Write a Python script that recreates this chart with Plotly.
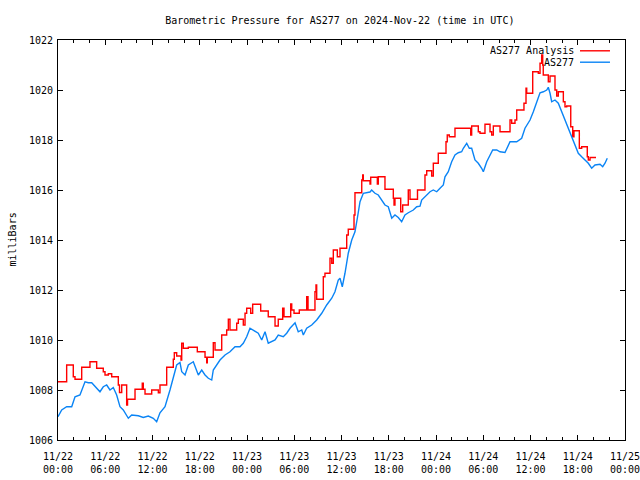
import pandas as pd
import plotly.graph_objects as go

BASE = pd.Timestamp("2024-11-22 00:00")

# AS277 Analysis (red, stepped) : hours since 2024-11-22 00:00 UTC, pressure (mb)
analysis_hours = [0.0, 1.10, 1.94, 2.16, 3.01, 4.06, 4.91, 5.75, 5.97, 6.39, 6.82, 7.66, 7.81, 8.09,
                  8.72, 8.83, 9.78, 10.70, 10.83, 11.05, 11.90, 12.74, 12.95, 13.80, 14.64, 14.77,
                  15.07, 15.62, 15.71, 15.91, 16.55, 17.69, 18.67, 18.88, 18.96, 19.72, 19.94, 20.79,
                  21.42, 21.63, 21.84, 22.69, 22.90, 23.53, 23.75, 23.96, 24.47, 24.72, 25.74, 26.70,
                  27.56, 27.97, 28.53, 28.70, 29.55, 29.68, 29.97, 30.64, 31.58, 31.75, 32.63, 32.76,
                  32.85, 33.69, 33.90, 34.54, 34.76, 34.96, 35.47, 35.81, 36.66, 36.86, 37.59, 37.71,
                  38.57, 38.69, 38.77, 39.62, 39.71, 40.55, 40.67, 41.52, 42.58, 42.67, 42.79, 43.52,
                  43.77, 44.48, 44.70, 45.65, 46.60, 46.82, 47.45, 47.66, 48.29, 49.27, 49.43, 49.69,
                  50.41, 52.41, 52.53, 53.37, 53.59, 54.22, 54.86, 55.07, 55.28, 56.13, 57.40, 57.61,
                  58.03, 58.25, 59.17, 59.43, 59.52, 60.28, 60.99, 61.21, 61.42, 61.55, 61.62, 62.26,
                  62.48, 63.11, 63.33, 63.53, 64.17, 64.38, 64.60, 65.11, 65.36, 65.52, 66.20, 66.50,
                  67.21, 67.34, 67.56, 68.32]
analysis_mb = [1008.33, 1009.0, 1008.53, 1008.43, 1008.91, 1009.13, 1008.87, 1008.73, 1008.6, 1008.65,
               1008.53, 1008.2, 1007.9, 1008.2, 1007.4, 1007.63, 1008.03, 1008.27, 1008.03, 1007.84,
               1008.0, 1007.89, 1008.2, 1008.91, 1009.23, 1009.49, 1009.36, 1009.2, 1009.87, 1009.67,
               1009.71, 1009.53, 1009.31, 1009.09, 1009.31, 1009.89, 1009.6, 1010.2, 1010.4, 1010.83,
               1010.4, 1010.67, 1010.83, 1010.6, 1011.07, 1011.27, 1011.07, 1011.43, 1011.16, 1010.93,
               1010.56, 1010.83, 1011.27, 1010.93, 1011.44, 1011.2, 1011.07, 1011.2, 1011.73, 1011.2,
               1011.93, 1012.2, 1011.63, 1012.53, 1012.67, 1013.27, 1013.07, 1013.6, 1013.33, 1013.67,
               1014.2, 1014.43, 1015.0, 1015.89, 1016.4, 1016.6, 1016.37, 1016.24, 1016.51, 1016.24,
               1016.53, 1016.03, 1015.67, 1015.4, 1015.67, 1015.13, 1015.4, 1016.0, 1015.63, 1016.0,
               1016.6, 1016.77, 1016.56, 1017.07, 1017.47, 1017.93, 1018.2, 1018.13, 1018.47, 1018.2,
               1018.56, 1018.33, 1018.27, 1018.63, 1018.33, 1018.2, 1018.56, 1018.33, 1018.8, 1018.67,
               1018.8, 1019.2, 1019.47, 1020.07, 1019.87, 1020.73, 1020.67, 1021.07, 1021.4, 1021.0,
               1020.6, 1020.33, 1020.56, 1020.0, 1019.76, 1019.93, 1019.53, 1019.33, 1019.36, 1018.53,
               1018.13, 1018.37, 1017.67, 1017.73, 1017.33, 1017.2, 1017.3, 1017.3]

# AS277 observations (blue)
obs_hours = [0.0, 0.47, 1.10, 1.74, 2.16, 2.79, 3.43, 3.85, 4.28, 5.12, 5.33, 5.75, 6.18, 6.60, 7.02,
             7.45, 7.87, 8.29, 8.93, 9.36, 10.20, 10.83, 11.47, 12.10, 12.53, 12.95, 13.59, 14.22,
             14.64, 15.07, 15.49, 15.71, 16.13, 16.55, 17.18, 17.82, 18.25, 18.67, 19.09, 19.52,
             19.72, 20.15, 20.57, 21.21, 21.84, 22.48, 23.11, 23.53, 23.96, 24.38, 24.80, 25.23,
             25.43, 25.87, 26.29, 26.70, 27.14, 27.56, 27.97, 28.61, 29.04, 29.46, 30.10, 30.51,
             30.95, 31.15, 31.58, 32.22, 32.85, 33.49, 34.12, 34.76, 35.17, 35.59, 35.81, 36.10,
             36.44, 36.86, 37.30, 37.71, 38.01, 38.35, 38.77, 39.20, 39.62, 39.83, 40.25, 40.67,
             41.10, 41.52, 41.94, 42.38, 42.79, 43.21, 43.64, 44.06, 44.48, 45.12, 45.55, 45.97,
             46.18, 46.82, 47.24, 47.66, 48.09, 48.51, 48.93, 49.14, 49.56, 49.99, 50.41, 50.83,
             51.26, 51.47, 51.90, 52.23, 52.53, 52.95, 53.37, 53.80, 54.01, 54.44, 54.86, 55.20,
             55.71, 56.13, 56.76, 57.40, 58.25, 58.88, 59.30, 59.94, 60.36, 60.79, 61.21, 61.63,
             62.06, 62.26, 62.48, 62.69, 63.11, 63.53, 63.96, 64.38, 64.80, 65.23, 65.65, 66.07,
             66.50, 66.92, 67.34, 67.77, 68.19, 68.83, 69.17, 69.46, 69.75]
obs_mb = [1006.93, 1007.2, 1007.33, 1007.33, 1007.73, 1007.8, 1008.33, 1008.29, 1008.29, 1008.0,
          1007.93, 1008.13, 1008.2, 1008.0, 1008.1, 1007.8, 1007.33, 1007.2, 1006.87, 1007.0,
          1006.97, 1006.9, 1006.96, 1006.87, 1006.73, 1007.09, 1007.33, 1008.0, 1008.53, 1009.0,
          1009.1, 1008.73, 1008.6, 1009.0, 1009.13, 1008.6, 1008.8, 1008.6, 1008.47, 1008.4,
          1008.8, 1009.0, 1009.2, 1009.4, 1009.53, 1009.73, 1009.73, 1009.87, 1010.13, 1010.47,
          1010.4, 1010.3, 1010.27, 1010.0, 1010.33, 1009.87, 1009.93, 1010.0, 1010.2, 1010.13,
          1010.27, 1010.47, 1010.69, 1010.33, 1010.4, 1010.2, 1010.47, 1010.6, 1010.8, 1011.07,
          1011.4, 1011.67, 1011.93, 1012.4, 1012.47, 1012.13, 1012.67, 1013.47, 1014.0, 1014.33,
          1014.87, 1015.53, 1015.87, 1015.91, 1015.92, 1016.0, 1015.87, 1015.8, 1015.6, 1015.4,
          1015.33, 1014.87, 1015.0, 1014.9, 1014.73, 1015.0, 1015.09, 1015.2, 1015.33, 1015.35,
          1015.6, 1015.8, 1015.93, 1016.0, 1015.93, 1016.07, 1016.2, 1016.53, 1016.73, 1017.13,
          1017.4, 1017.49, 1017.53, 1017.67, 1017.87, 1017.67, 1017.67, 1017.2, 1017.07, 1016.87,
          1016.73, 1017.13, 1017.4, 1017.6, 1017.6, 1017.53, 1017.5, 1017.93, 1017.93, 1018.07,
          1018.47, 1018.8, 1019.13, 1019.53, 1019.89, 1019.93, 1020.0, 1020.11, 1019.87, 1019.53,
          1019.6, 1019.47, 1019.13, 1018.8, 1018.47, 1018.07, 1017.73, 1017.47, 1017.33, 1017.2,
          1017.07, 1016.87, 1017.0, 1017.03, 1016.93, 1017.07, 1017.27]

tick_hours = [0, 6, 12, 18, 24, 30, 36, 42, 48, 54, 60, 66, 72]
tick_labels = ["11/22<br>00:00", "11/22<br>06:00", "11/22<br>12:00", "11/22<br>18:00",
               "11/23<br>00:00", "11/23<br>06:00", "11/23<br>12:00", "11/23<br>18:00",
               "11/24<br>00:00", "11/24<br>06:00", "11/24<br>12:00", "11/24<br>18:00",
               "11/25<br>00:00"]
y_ticks = [1006, 1008, 1010, 1012, 1014, 1016, 1018, 1020, 1022]

TITLE = "Barometric Pressure for AS277 on 2024-Nov-22 (time in UTC)"
Y_TITLE = "milliBars"
NAMES = ["AS277 Analysis", "AS277"]
COLORS = ["#ff0000", "#0a84f5"]
FONT = "DejaVu Sans Mono"


def to_time(hours):
    return [BASE + pd.Timedelta(hours=h) for h in hours]


fig = go.Figure()
fig.add_trace(go.Scatter(x=to_time(analysis_hours), y=analysis_mb, mode="lines", name=NAMES[0],
                         line=dict(color=COLORS[0], width=1.4, shape="hv"), showlegend=False))
fig.add_trace(go.Scatter(x=to_time(obs_hours), y=obs_mb, mode="lines", name=NAMES[1],
                         line=dict(color=COLORS[1], width=1.4), showlegend=False))

# gnuplot-style key (text then sample line)
for i, (nm, col) in enumerate(zip(NAMES, COLORS)):
    yk = 0.973 - i * 0.0285
    fig.add_annotation(x=0.908, y=yk, xref="paper", yref="paper", text=nm, showarrow=False,
                       xanchor="right", yanchor="middle", xshift=3,
                       font=dict(family=FONT, size=10, color="black"))
    fig.add_shape(type="line", xref="paper", yref="paper", x0=0.9206, x1=0.9735, y0=yk, y1=yk,
                  line=dict(color=col, width=1.4))

# y-axis title (gnuplot places it near the left edge)
fig.add_annotation(x=0, y=0.5, xref="paper", yref="paper", text=Y_TITLE, showarrow=False,
                   textangle=-90, xanchor="center", yanchor="middle", xshift=-46.5,
                   font=dict(family=FONT, size=10, color="black"))

fig.update_layout(
    width=640, height=480,
    margin=dict(l=58, r=15, t=40, b=40),
    paper_bgcolor="white", plot_bgcolor="white",
    font=dict(family=FONT, size=10, color="black"),
    title=dict(text=TITLE, x=0.531, xanchor="center", y=0.958, yanchor="middle",
               font=dict(family=FONT, size=10, color="black")),
)
fig.update_xaxes(
    range=[BASE, BASE + pd.Timedelta(hours=72)],
    tickvals=to_time(tick_hours), ticktext=tick_labels,
    ticks="inside", ticklen=5, tickcolor="black", tickwidth=1,
    minor=dict(ticks="inside", ticklen=3, dtick=2 * 3600 * 1000, tickcolor="black"),
    showline=True, linecolor="black", linewidth=1, mirror="allticks",
    showgrid=False, zeroline=False, ticklabeloverflow="allow", ticklabelstandoff=7,
    automargin=False,
)
fig.update_yaxes(
    range=[1006, 1022], tickvals=y_ticks, ticktext=[str(v) for v in y_ticks],
    ticks="inside", ticklen=5, tickcolor="black", tickwidth=1,
    showline=True, linecolor="black", linewidth=1, mirror="allticks",
    showgrid=False, zeroline=False, ticklabelstandoff=2, automargin=False,
)

fig.write_html("out.html", config={"displayModeBar": False},
               post_script="document.body.style.margin='0';document.body.style.overflow='hidden';")
